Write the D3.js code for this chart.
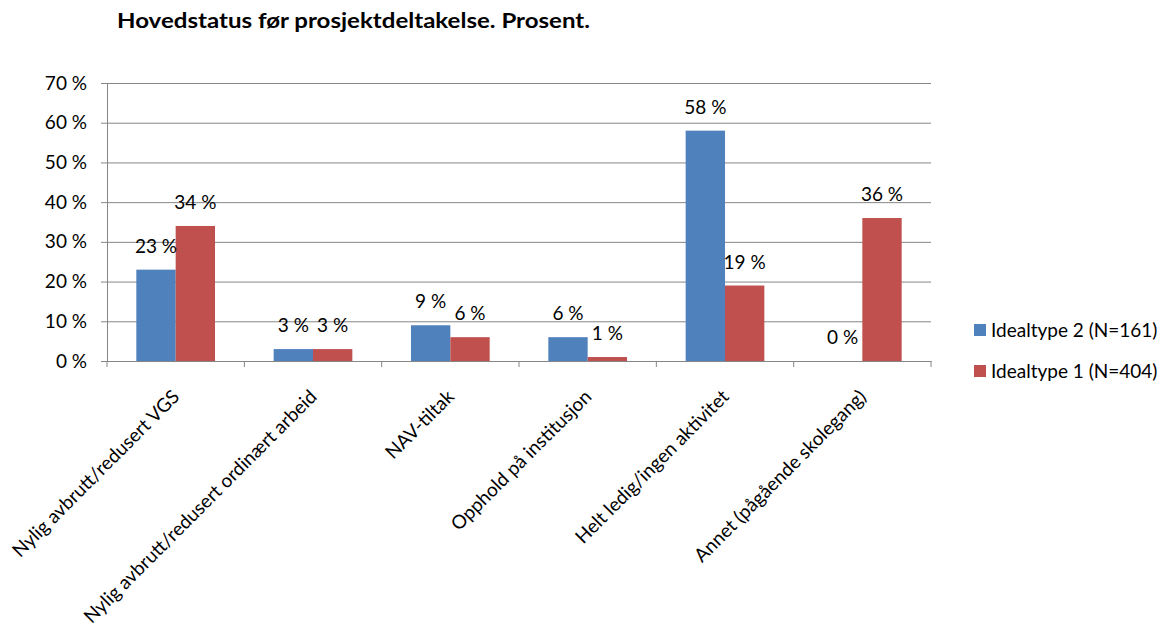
<!DOCTYPE html>
<html>
<head>
<meta charset="utf-8">
<script src="https://cdn.jsdelivr.net/npm/d3@7"></script>
<style>
  body { margin: 0; background: #fff; }
  text { font-family: Lato, "Open Sans", sans-serif; fill: #000; }
</style>
</head>
<body>
<svg id="chart" width="1166" height="626"></svg>
<script>
// Main status before project participation, percent by group
const categories = [
  "Nylig avbrutt/redusert VGS",
  "Nylig avbrutt/redusert ordinært arbeid",
  "NAV-tiltak",
  "Opphold på institusjon",
  "Helt ledig/ingen aktivitet",
  "Annet (pågående skolegang)"
];
const seriesNames = ["Idealtype 2 (N=161)", "Idealtype 1 (N=404)"];
const idealtype2 = [23, 3, 9, 6, 58, 0];
const idealtype1 = [34, 3, 6, 1, 19, 36];
const yTicks = [0, 10, 20, 30, 40, 50, 60, 70];
const colors = ["#4F81BD", "#C0504D"];

const svg = d3.select("#chart");
const plotLeft = 107, plotRight = 931, plotTop = 83, plotBottom = 361;
const fontSize = 19;

const x0 = d3.scaleBand().domain(categories).range([plotLeft, plotRight]).padding(0);
const groupPad = x0.bandwidth() * 0.2135;
const x1 = d3.scaleBand().domain(seriesNames)
  .range([groupPad, x0.bandwidth() - groupPad]).padding(0);
const y = d3.scaleLinear().domain([0, 70]).range([plotBottom, plotTop]);

// Title
svg.append("text")
  .attr("x", 117).attr("y", 28)
  .attr("font-size", 21).attr("font-weight", 700)
  .attr("textLength", 473).attr("lengthAdjust", "spacingAndGlyphs")
  .text("Hovedstatus før prosjektdeltakelse. Prosent.");

// Gridlines and y axis
const yAxis = d3.axisLeft(y).tickValues(yTicks)
  .tickSize(-(plotRight - plotLeft)).tickSizeOuter(0)
  .tickFormat(d => d + " %");
const gy = svg.append("g").attr("transform", `translate(${plotLeft},0)`).call(yAxis);
gy.select(".domain").attr("stroke", "#868686");
gy.selectAll(".tick line").attr("stroke", "#868686").attr("x1", -6);
gy.selectAll(".tick text")
  .attr("x", -20).attr("font-size", fontSize).attr("font-family", "Lato, sans-serif")
  .attr("fill", "#000");

// Bars
const rows = categories.map((c, i) => ({ c, vals: [idealtype2[i], idealtype1[i]] }));
const groups = svg.append("g").selectAll("g").data(rows).join("g")
  .attr("transform", d => `translate(${x0(d.c)},0)`);
groups.selectAll("rect")
  .data(d => d.vals.map((v, k) => ({ v, k })))
  .join("rect")
  .attr("x", d => x1(seriesNames[d.k]))
  .attr("width", x1.bandwidth())
  .attr("y", d => y(d.v))
  .attr("height", d => y(0) - y(d.v))
  .attr("fill", d => colors[d.k]);

// Value labels
groups.selectAll("text.val")
  .data(d => d.vals.map((v, k) => ({ v, k })))
  .join("text")
  .attr("class", "val")
  .attr("x", d => x1(seriesNames[d.k]) + x1.bandwidth() / 2)
  .attr("y", d => y(d.v) - 17)
  .attr("text-anchor", "middle")
  .attr("font-size", fontSize)
  .text(d => d.v + " %");

// X axis
const xAxis = d3.axisBottom(x0).tickSize(0).tickSizeOuter(0);
const gx = svg.append("g").attr("transform", `translate(0,${plotBottom})`).call(xAxis);
gx.select(".domain").attr("stroke", "#868686");
gx.selectAll(".tick line").remove();
gx.selectAll(".tick text")
  .attr("font-size", fontSize).attr("font-family", "Lato, sans-serif").attr("fill", "#000")
  .attr("text-anchor", "end")
  .attr("y", 0).attr("dy", 0)
  .attr("transform", "translate(5,37) rotate(-45)");
// Category separators on the x axis
svg.append("g").selectAll("line")
  .data(d3.range(categories.length + 1))
  .join("line")
  .attr("x1", i => plotLeft + i * x0.bandwidth())
  .attr("x2", i => plotLeft + i * x0.bandwidth())
  .attr("y1", plotBottom).attr("y2", plotBottom + 6)
  .attr("stroke", "#868686");

// Legend
const legend = svg.append("g").selectAll("g").data(seriesNames).join("g")
  .attr("transform", (d, i) => `translate(974,${324 + i * 41})`);
legend.append("rect").attr("width", 12).attr("height", 12)
  .attr("fill", (d, i) => colors[i]);
legend.append("text").attr("x", 17).attr("y", 13)
  .attr("font-size", fontSize).text(d => d);
</script>
</body>
</html>
